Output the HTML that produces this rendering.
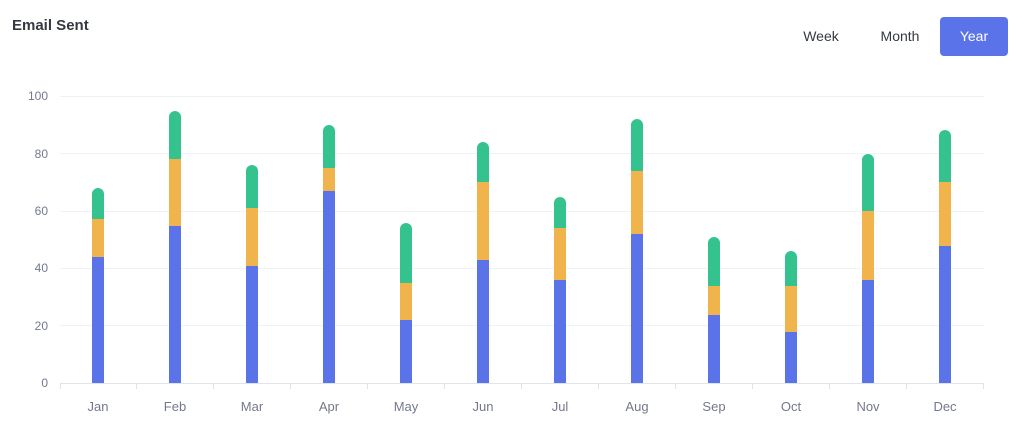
<!DOCTYPE html>
<html><head><style>
body{margin:0;width:1017px;height:432px;background:#fff;font-family:"Liberation Sans",sans-serif;overflow:hidden;position:relative}
.t{position:absolute;left:12px;top:17px;font-size:15px;font-weight:bold;color:#343a40}
.b{position:absolute;top:17px;height:39px;line-height:39px;font-size:14px;color:#343a40;text-align:center;border-radius:4px}
</style></head><body>
<div class="t">Email Sent</div>
<div class="b" style="left:790px;width:62px">Week</div>
<div class="b" style="left:866px;width:68px">Month</div>
<div class="b" style="left:940px;width:68px;background:#5b73e8;color:#fff">Year</div>
<svg width="1017" height="432" style="position:absolute;left:0;top:0" font-family="Liberation Sans, sans-serif" font-size="12" fill="#74788d">
<g stroke="#eff2f7" stroke-width="1">
<line x1="60" x2="984" y1="96.5" y2="96.5"/><line x1="60" x2="984" y1="153.5" y2="153.5"/><line x1="60" x2="984" y1="211.5" y2="211.5"/><line x1="60" x2="984" y1="268.5" y2="268.5"/><line x1="60" x2="984" y1="325.5" y2="325.5"/><line x1="60" x2="984" y1="383.5" y2="383.5" stroke="#e0e3ea"/>
</g>
<g text-anchor="end"><text x="48" y="100">100</text><text x="48" y="158">80</text><text x="48" y="215">60</text><text x="48" y="272">40</text><text x="48" y="330">20</text><text x="48" y="387">0</text></g>
<g id="bars"></g>
<g text-anchor="middle" id="xl" font-size="13"></g>
</svg>
<script>
var d=[["Jan",257,219,188],["Feb",226,159,111],["Mar",266,208,165],["Apr",191,168,125],["May",320,283,223],["Jun",260,182,142],["Jul",280,228,197],["Aug",234,171,119],["Sep",315,286,237],["Oct",332,286,251],["Nov",280,211,154],["Dec",246,182,130]];
var s="",x="";
d.forEach(function(r,i){var c=98+i*77,l=c-6;
s+='<rect x="'+l+'" y="'+r[3]+'" width="12" height="'+(r[2]-r[3]+8)+'" rx="6" fill="#34c38f"/>';
s+='<rect x="'+l+'" y="'+r[2]+'" width="12" height="'+(r[1]-r[2])+'" fill="#f1b44c"/>';
s+='<rect x="'+l+'" y="'+r[1]+'" width="12" height="'+(383-r[1])+'" fill="#5b73e8"/>';
x+='<text x="'+c+'" y="411">'+r[0]+'</text>';
var tk=c+38.5;if(i<11)s+='<line x1="'+tk+'" x2="'+tk+'" y1="383" y2="389" stroke="#e0e3ea"/>';
});
s+='<line x1="60.5" x2="60.5" y1="383" y2="389" stroke="#e0e3ea"/><line x1="983.5" x2="983.5" y1="383" y2="389" stroke="#e0e3ea"/>';
document.getElementById("bars").innerHTML=s;document.getElementById("xl").innerHTML=x;
</script>
</body></html>
